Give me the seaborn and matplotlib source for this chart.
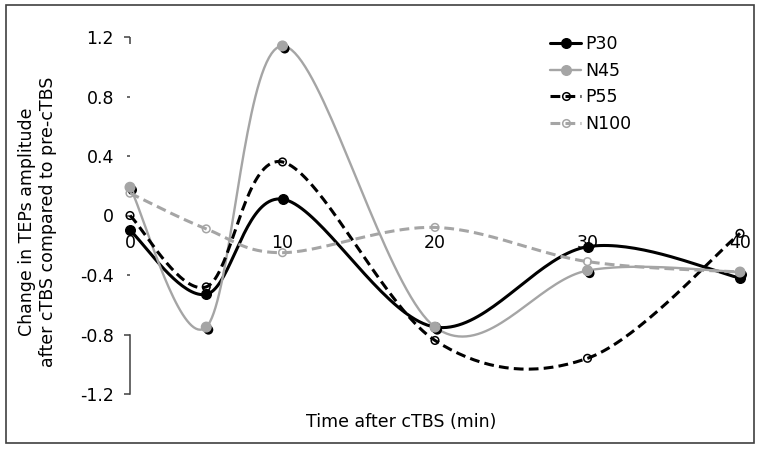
import numpy as np
import pandas as pd
import matplotlib
matplotlib.use("Agg")
import matplotlib.pyplot as plt
import matplotlib.patheffects as pe
from matplotlib.lines import Line2D
from matplotlib.patches import Rectangle
import seaborn as sns

# ---------------- data ----------------
times = [0, 5, 10, 20, 30, 40]
p30 = [-0.10, -0.53, 0.11, -0.75, -0.21, -0.42]
n45 = [0.19, -0.75, 1.14, -0.75, -0.37, -0.38]
p55 = [0.00, -0.48, 0.36, -0.84, -0.96, -0.12]
n100 = [0.15, -0.09, -0.25, -0.08, -0.31, -0.38]
series_names = ["P30", "N45", "P55", "N100"]
x_ticks = [0, 10, 20, 30, 40]
x_tick_labels = ["0", "10", "20", "30", "40"]
y_ticks = [-1.2, -0.8, -0.4, 0, 0.4, 0.8, 1.2]
y_tick_labels = ["-1.2", "-0.8", "-0.4", "0", "0.4", "0.8", "1.2"]
x_title = "Time after cTBS (min)"
y_title = "Change in TEPs amplitude\nafter cTBS compared to pre-cTBS"

df = pd.DataFrame({"time": times * 4,
                   "value": p30 + n45 + p55 + n100,
                   "series": sum([[s] * len(times) for s in series_names], [])})


def smooth(x, y, n=40):
    """Excel-like smoothed line (cubic Bezier, Catmull-Rom control points)."""
    P = np.column_stack([x, y]).astype(float)
    E = np.vstack([P[0], P, P[-1]])
    out = []
    t = np.linspace(0, 1, n)[:, None]
    for i in range(len(P) - 1):
        p0, p3 = P[i], P[i + 1]
        c1 = p0 + (E[i + 2] - E[i]) / 6
        c2 = p3 - (E[i + 3] - E[i + 1]) / 6
        seg = (1 - t) ** 3 * p0 + 3 * (1 - t) ** 2 * t * c1 + 3 * (1 - t) * t ** 2 * c2 + t ** 3 * p3
        out.append(seg if i == 0 else seg[1:])
    return np.vstack(out)


GRAY = "#A5A5A5"
DASH = (0, (3.2, 1.7))
styles = {
    "P30": dict(color="black", lw=2.2, ls="-", fc="black", ec="black", s=48, mew=1.0),
    "N45": dict(color=GRAY, lw=1.7, ls="-", fc=GRAY, ec=GRAY, s=48, mew=1.0),
    "P55": dict(color="black", lw=2.2, ls=DASH, fc="none", ec="black", s=30, mew=1.1),
    "N100": dict(color=GRAY, lw=2.2, ls=DASH, fc="none", ec=GRAY, s=30, mew=1.1),
}

sns.set_theme(style="white")
plt.rcParams["font.family"] = ["DejaVu Sans"]
plt.rcParams["text.color"] = "black"
plt.rcParams["axes.labelcolor"] = "black"
plt.rcParams["xtick.color"] = "black"
plt.rcParams["ytick.color"] = "black"
FS = 12.5

W, H = 762, 450
fig = plt.figure(figsize=(W / 100, H / 100), dpi=100)
ax = fig.add_axes([130 / W, 56 / H, 610 / W, 357 / H])
ax.patch.set_alpha(0)

for k, name in enumerate(series_names):
    st = styles[name]
    sub = df[df["series"] == name]
    curve = smooth(sub["time"].values, sub["value"].values)
    sns.lineplot(x=curve[:, 0], y=curve[:, 1], ax=ax, sort=False, estimator=None,
                 color=st["color"], linewidth=st["lw"], linestyle=st["ls"],
                 legend=False, zorder=2 + k, clip_on=False)
    sns.scatterplot(data=sub, x="time", y="value", ax=ax, marker="o", s=st["s"],
                    facecolor=st["fc"], edgecolor=st["ec"], linewidth=st["mew"],
                    legend=False, zorder=2.5 + k, clip_on=False)
    if name == "N45":
        ax.collections[-1].set_path_effects([
            pe.SimplePatchShadow(offset=(1.6, -2.0), shadow_rgbFace="black", alpha=1.0),
            pe.Normal()])

ax.set_xlim(0, 40)
ax.set_ylim(-1.2, 1.2)
ax.set_xlabel("")
ax.set_ylabel("")

# x axis: labels along the zero line, no visible spine
ax.spines["bottom"].set_position(("data", 0))
ax.spines["bottom"].set_visible(False)
ax.spines["top"].set_visible(False)
ax.spines["right"].set_visible(False)
ax.set_xticks(x_ticks)
ax.set_xticklabels(x_tick_labels)
ax.tick_params(axis="x", length=0, pad=13, labelsize=FS, labelcolor="black", bottom=False)

# y axis: visible only between -1.2 and -0.8, with a stub at 1.2
ax.set_yticks(y_ticks)
ax.set_yticklabels(y_tick_labels)
ax.spines["left"].set_bounds(-1.2, -0.8)
ax.spines["left"].set_color("#404040")
ax.spines["left"].set_linewidth(1.1)
ax.tick_params(axis="y", left=True, direction="out", length=4, width=1.1,
               color="#404040", pad=7.5, labelsize=FS, labelcolor="black")
for tk, v in zip(ax.yaxis.get_major_ticks(), y_ticks):
    if v in (-0.4, 0, 0.4, 0.8):
        tk.tick1line.set_markersize(2)
        tk.tick1line.set_color("#777777")
ax.vlines(0, 1.15, 1.2, color="#404040", lw=1.1, clip_on=False)

# titles
fig.text(401 / W, 1 - 422 / H, x_title, ha="center", va="center", fontsize=FS, color="black")
fig.text(37.5 / W, 1 - 222 / H, y_title, ha="center", va="center", rotation=90,
         multialignment="center", fontsize=FS, linespacing=1.2, color="black")

# legend
handles = []
for name in series_names:
    st = styles[name]
    handles.append(Line2D([], [], color=st["color"], lw=st["lw"], ls=st["ls"], marker="o",
                          markersize=np.sqrt(st["s"]), markerfacecolor=st["fc"],
                          markeredgecolor=st["ec"], markeredgewidth=st["mew"]))
leg = fig.legend(handles, series_names, loc="upper left", bbox_to_anchor=(550 / W, 1 - 35 / H),
                 bbox_transform=fig.transFigure, frameon=False, handlelength=1.8,
                 handletextpad=0.25, labelspacing=0.5, borderpad=0, borderaxespad=0, fontsize=FS)
for txt in leg.get_texts():
    txt.set_color("black")

# figure border
fig.add_artist(Rectangle((6 / W, 1 - 443 / H), (754 - 6) / W, (443 - 5) / H,
                         transform=fig.transFigure, fill=False, edgecolor="#404040", lw=1.2))

fig.savefig("out.png", dpi=100)
